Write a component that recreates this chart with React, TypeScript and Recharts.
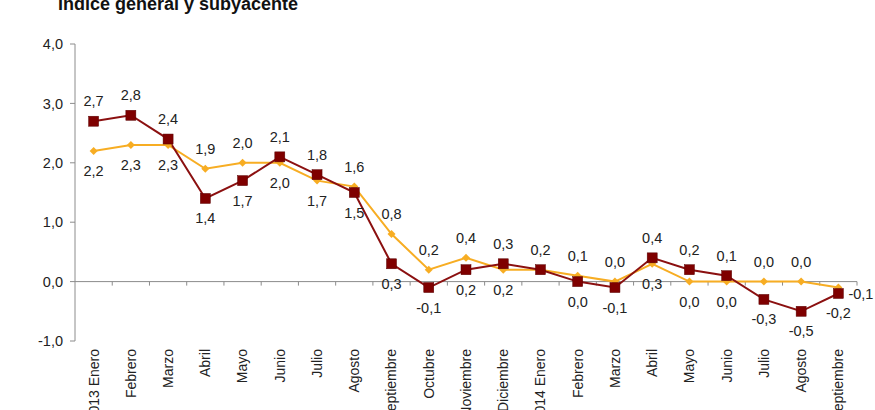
import React from 'react'
import { LineChart, Line, XAxis, YAxis, ReferenceLine, LabelList } from 'recharts'

// months, 2013 Enero .. 2014 Septiembre
const months = [
  '2013 Enero', 'Febrero', 'Marzo', 'Abril', 'Mayo', 'Junio', 'Julio', 'Agosto',
  'Septiembre', 'Octubre', 'Noviembre', 'Diciembre', '2014 Enero', 'Febrero', 'Marzo',
  'Abril', 'Mayo', 'Junio', 'Julio', 'Agosto', 'Septiembre',
]
const general = [2.7, 2.8, 2.4, 1.4, 1.7, 2.1, 1.8, 1.5, 0.3, -0.1, 0.2, 0.3, 0.2, 0.0, -0.1, 0.4, 0.2, 0.1, -0.3, -0.5, -0.2]
const subyacente = [2.2, 2.3, 2.3, 1.9, 2.0, 2.0, 1.7, 1.6, 0.8, 0.2, 0.4, 0.2, 0.2, 0.1, 0.0, 0.3, 0.0, 0.0, 0.0, 0.0, -0.1]
const yTicks = [-1, 0, 1, 2, 3, 4]

const data = months.map((m, i) => ({ key: i, mes: m, general: general[i], subyacente: subyacente[i] }))

const FONT = '"Liberation Sans", Arial, sans-serif'
const RED = '#7f0000'
const ORANGE = '#f7ad23'

const fmt = (v: number) => v.toFixed(1).replace('.', ',')

const RedSquare = (props: any) => {
  const { cx, cy } = props
  if (cx == null || cy == null) return null
  return <rect x={cx - 5} y={cy - 5} width={10} height={10} fill={RED} stroke="#5a0000" strokeWidth={0.5} />
}

const OrangeDiamond = (props: any) => {
  const { cx, cy } = props
  if (cx == null || cy == null) return null
  return <path d={`M${cx},${cy - 4}L${cx + 4},${cy}L${cx},${cy + 4}L${cx - 4},${cy}Z`} fill={ORANGE} />
}

// label goes above when this series is the higher one, below otherwise
const makeLabel = (own: number[], other: number[], isRed: boolean) => (props: any) => {
  const { x, y, index } = props
  const v = own[index]
  const o = other[index]
  if (v === o && !isRed) return null
  if (!isRed && index === own.length - 1) {
    return (
      <text x={x + 10} y={y + 11} fontSize={14.5} fontFamily={FONT} fill="#222">{fmt(v)}</text>
    )
  }
  const above = v >= o
  return (
    <text x={x} y={above ? y - 15 : y + 25} textAnchor="middle" fontSize={14.5} fontFamily={FONT} fill="#222">
      {fmt(v)}
    </text>
  )
}

const MonthTick = (props: any) => {
  const { x, y, payload } = props
  return (
    <g transform={`translate(${x},${y})`}>
      <text transform="rotate(-90)" textAnchor="end" dy="0.35em" fontSize={14} fontFamily={FONT} fill="#222">
        {months[payload.value]}
      </text>
    </g>
  )
}

// zero line with small ticks between the months
const ZeroAxis = (props: any) => {
  const { x1, y1, x2 } = props
  const n = months.length
  const step = (x2 - x1) / n
  return (
    <g>
      <line x1={x1} y1={y1} x2={x2} y2={y1} stroke="#8c8c8c" strokeWidth={1} />
      {months.map((_, i) => (
        <line key={i} x1={x1 + step * (i + 1)} y1={y1} x2={x1 + step * (i + 1)} y2={y1 + 4} stroke="#8c8c8c" strokeWidth={1} />
      ))}
    </g>
  )
}

export default function App() {
  return (
    <div style={{ position: 'absolute', left: 0, top: 0, width: 875, height: 410, overflow: 'hidden', background: '#fff' }}>
      <div style={{ position: 'absolute', left: 58, top: -4, fontFamily: FONT, fontSize: 18, lineHeight: '17px', fontWeight: 'bold', color: '#111' }}>
        Índice general y subyacente
      </div>
      <LineChart width={875} height={430} data={data} margin={{ top: 44, right: 18, left: 0, bottom: 4 }}>
        <XAxis
          dataKey="key"
          scale="band"
          interval={0}
          axisLine={false}
          tickLine={false}
          height={85}
          tick={<MonthTick />}
        />
        <YAxis
          domain={[-1, 4]}
          ticks={yTicks}
          width={75}
          tickFormatter={fmt}
          axisLine={{ stroke: '#8c8c8c' }}
          tickLine={{ stroke: '#8c8c8c' }}
          tickSize={5}
          tickMargin={7}
          tick={{ fill: '#222', fontSize: 14.5, fontFamily: FONT }}
        />
        <ReferenceLine y={0} shape={<ZeroAxis />} />
        <Line
          dataKey="subyacente"
          stroke={ORANGE}
          strokeWidth={2}
          dot={<OrangeDiamond />}
          activeDot={false}
          isAnimationActive={false}
        >
          <LabelList dataKey="subyacente" content={makeLabel(subyacente, general, false)} />
        </Line>
        <Line
          dataKey="general"
          stroke="#8b1010"
          strokeWidth={2}
          dot={<RedSquare />}
          activeDot={false}
          isAnimationActive={false}
        >
          <LabelList dataKey="general" content={makeLabel(general, subyacente, true)} />
        </Line>
      </LineChart>
    </div>
  )
}
